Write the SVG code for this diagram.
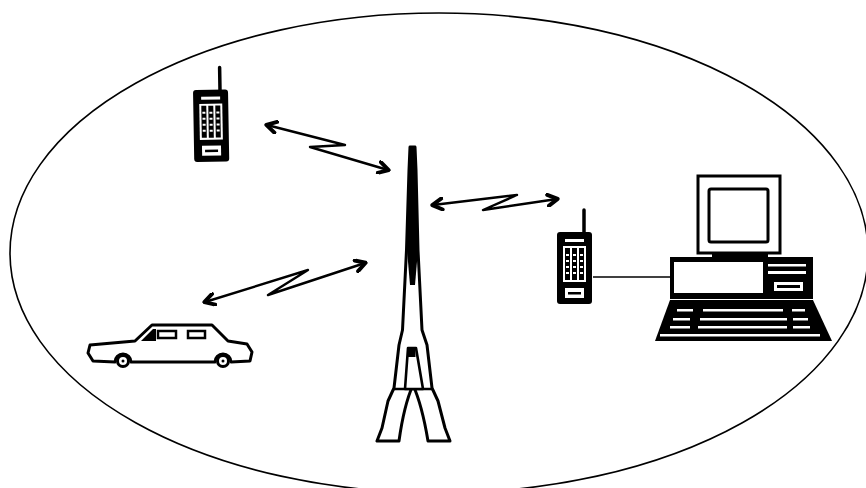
<svg xmlns="http://www.w3.org/2000/svg" width="866" height="488" viewBox="0 0 866 488">
  <style>
    .ink { stroke: #000; fill: none; stroke-linecap: round; stroke-linejoin: round; }
    .solid { fill: #000; }
    .paper { fill: #fff; }
    .link { stroke: #000; stroke-width: 2.4; fill: none; stroke-linejoin: round; stroke-linecap: round; }
  </style>
  <defs>
    <marker id="chev" viewBox="0 0 10 10" refX="8" refY="5" markerUnits="userSpaceOnUse" markerWidth="14" markerHeight="14" orient="auto-start-reverse">
      <path d="M1.5,1 L8.5,5 L1.5,9" fill="none" stroke="#000" stroke-width="2.8" stroke-linecap="round" stroke-linejoin="round"/>
    </marker>
    <!-- handheld radio: body 35x72, antenna on the right -->
    <g id="handset">
      <line x1="27" y1="2" x2="27" y2="-22" class="ink" stroke-width="3.5"/>
      <rect x="0" y="0" width="35" height="72" rx="3" class="solid"/>
      <rect x="8" y="7" width="19" height="3" class="paper"/>
      <rect x="6" y="14" width="23" height="36" class="paper"/>
      <g class="solid">
        <rect x="8" y="16" width="5" height="32"/>
        <rect x="15" y="16" width="5" height="32"/>
        <rect x="22" y="16" width="5" height="32"/>
      </g>
      <g class="paper">
        <rect x="9" y="22" width="3" height="2"/><rect x="16" y="22" width="3" height="2"/><rect x="23" y="22" width="3" height="2"/>
        <rect x="9" y="28" width="3" height="2"/><rect x="16" y="28" width="3" height="2"/><rect x="23" y="28" width="3" height="2"/>
        <rect x="9" y="34" width="3" height="2"/><rect x="16" y="34" width="3" height="2"/><rect x="23" y="34" width="3" height="2"/>
        <rect x="9" y="40" width="3" height="2"/><rect x="16" y="40" width="3" height="2"/><rect x="23" y="40" width="3" height="2"/>
      </g>
      <rect x="8" y="56" width="19" height="10" class="paper"/>
      <rect x="11" y="60" width="13" height="2.5" class="solid"/>
    </g>
  </defs>

  <!-- coverage area -->
  <ellipse id="cell" cx="439" cy="253" rx="429" ry="240" class="ink" stroke-width="1.6"/>

  <!-- radio links -->
  <g id="links">
    <polyline class="link" points="267,125 345,145 310,147 388,170" marker-start="url(#chev)" marker-end="url(#chev)"/>
    <polyline class="link" points="205,302 308,270 268,295 365,263" marker-start="url(#chev)" marker-end="url(#chev)"/>
    <polyline class="link" points="433,205 517,195 483,210 557,199" marker-start="url(#chev)" marker-end="url(#chev)"/>
    <line x1="593" y1="277" x2="671" y2="277" stroke="#000" stroke-width="1.6"/>
  </g>

  <!-- portable phone, upper left -->
  <g id="phone-left">
    <use href="#handset" transform="translate(193,90) rotate(-1)"/>
  </g>

  <!-- portable phone wired to the computer -->
  <g id="phone-right">
    <use href="#handset" transform="translate(557,232)"/>
  </g>

  <!-- transmitter tower -->
  <g id="tower">
    <path class="paper" stroke="#000" stroke-width="3" stroke-linejoin="round"
          d="M410,147 L409,170 L406.5,250 L402.5,330 L399,345 L394,388 L388,401 L382,428 L377,441 L399,441 Q404,405 413,385 Q422,405 428,441 L450,441 L445,428 L438,401 L432,388 L427,345 L422,330 L418,250 L416,170 L415,147 Z"/>
    <polygon class="solid" points="409.5,147 415.5,147 418,250 415,285 410,285 407,250"/>
    <line x1="394" y1="389" x2="432" y2="389" stroke="#000" stroke-width="2.5"/>
    <polygon class="paper" stroke="#000" stroke-width="2.6" stroke-linejoin="round" points="408,348 416,348 423,389 405,389"/>
    <rect x="407.5" y="347" width="8" height="10" class="solid"/>
  </g>

  <!-- car -->
  <g id="car">
    <path class="paper" stroke="#000" stroke-width="3" stroke-linejoin="round"
          d="M90,345 L135,341 L152,325 L212,325 L228,341 L247,344 L252,352 L250,361 L231,362 A8,8 0 0 0 215,362 L131,362 A8,8 0 0 0 115,362 L93,361 L88,353 Z"/>
    <polygon class="solid" points="141,341 153,329 156,329 156,341"/>
    <rect x="158" y="331" width="18" height="7" class="paper" stroke="#000" stroke-width="2.5"/>
    <rect x="188" y="331" width="17" height="7" class="paper" stroke="#000" stroke-width="2.5"/>
    <circle cx="123" cy="361" r="5.5" class="paper" stroke="#000" stroke-width="3"/>
    <circle cx="223" cy="361" r="5.5" class="paper" stroke="#000" stroke-width="3"/>
    <circle cx="123" cy="361" r="1.5" class="solid"/>
    <circle cx="223" cy="361" r="1.5" class="solid"/>
  </g>

  <!-- desktop computer -->
  <g id="computer">
    <rect x="698" y="176" width="82" height="77" class="paper" stroke="#000" stroke-width="3"/>
    <rect x="709" y="189" width="59" height="53" rx="2" class="paper" stroke="#000" stroke-width="3"/>
    <rect x="712" y="253" width="56" height="4" class="solid"/>
    <rect x="670" y="257" width="143" height="42" class="solid"/>
    <rect x="674" y="262" width="89" height="31" class="paper"/>
    <rect x="768" y="264" width="38" height="2.5" class="paper"/>
    <rect x="768" y="271" width="38" height="3" class="paper"/>
    <rect x="774" y="282" width="29" height="9" class="paper"/>
    <rect x="777" y="285" width="23" height="3" class="solid"/>
    <polygon class="solid" points="670,300 813,300 832,341 655,341"/>
    <g class="paper">
      <rect x="677" y="309" width="16" height="2.5"/><rect x="703" y="309" width="80" height="2.5"/><rect x="792" y="309" width="13" height="2.5"/>
      <rect x="673" y="318" width="17" height="2.5"/><rect x="700" y="318" width="87" height="2.5"/><rect x="793" y="318" width="15" height="2.5"/>
      <rect x="670" y="326" width="20" height="2.5"/><rect x="698" y="326" width="89" height="2.5"/><rect x="793" y="326" width="17" height="2.5"/>
      <rect x="660" y="334" width="160" height="2.5"/>
    </g>
  </g>
</svg>
